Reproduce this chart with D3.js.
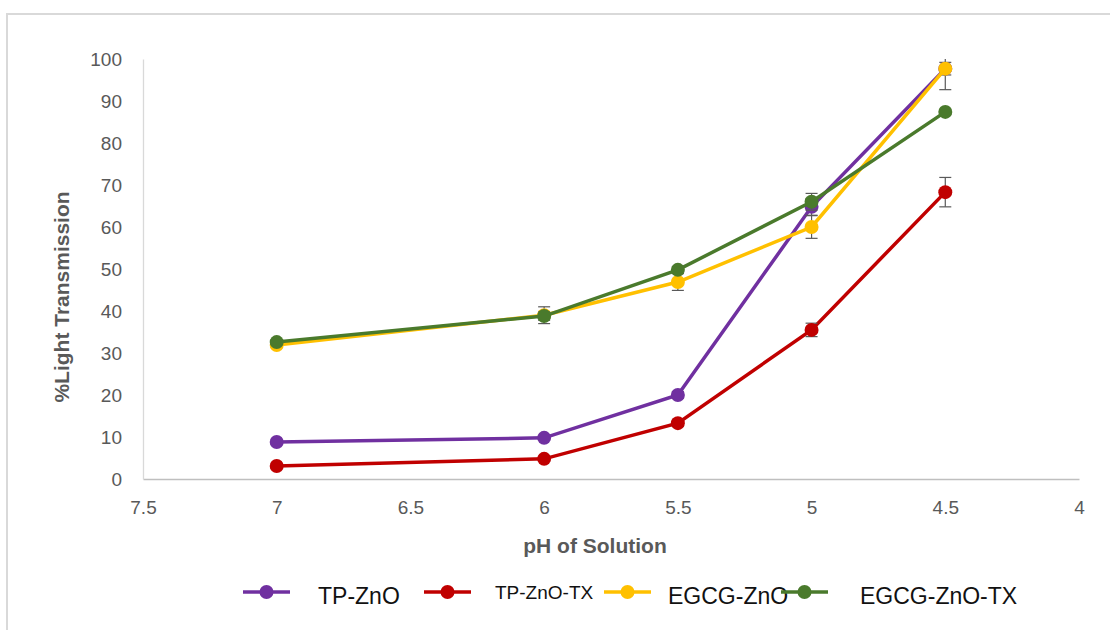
<!DOCTYPE html>
<html>
<head>
<meta charset="utf-8">
<script src="https://cdn.jsdelivr.net/npm/d3@7"></script>
<style>
  html, body { margin: 0; padding: 0; background: #fff; }
  svg { display: block; }
</style>
</head>
<body>
<svg id="chart" width="1110" height="630"></svg>
<script>
// pH values (x) and %light transmission for each formulation
const phValues = [7, 6, 5.5, 5, 4.5];
const seriesNames = ["TP-ZnO", "TP-ZnO-TX", "EGCG-ZnO", "EGCG-ZnO-TX"];
const tpZnO      = [8.8, 9.8, 20.0, 64.8, 97.7];
const tpZnOTX    = [3.1, 4.8, 13.3, 35.5, 68.3];
const egcgZnO    = [31.9, 39.0, 46.9, 60.0, 97.7];
const egcgZnOTX  = [32.6, 38.8, 49.8, 66.0, 87.4];
// standard deviations (error bars)
const tpZnOErr     = [0.5, 0.5, 0.8, 2.0, 1.5];
const tpZnOTXErr   = [0.5, 0.6, 0.8, 1.6, 3.5];
const egcgZnOErr   = [0.6, 2.0, 2.0, 2.7, 5.0];
const egcgZnOTXErr = [0.6, 1.0, 0.8, 2.0, 0.5];
const xTicks = [7.5, 7, 6.5, 6, 5.5, 5, 4.5, 4];
const yTicks = [0, 10, 20, 30, 40, 50, 60, 70, 80, 90, 100];
const colors = ["#7030A0", "#C00000", "#FFC000", "#4A7A2C"];

const series = [
  { name: seriesNames[0], values: tpZnO, err: tpZnOErr, color: colors[0] },
  { name: seriesNames[1], values: tpZnOTX, err: tpZnOTXErr, color: colors[1] },
  { name: seriesNames[2], values: egcgZnO, err: egcgZnOErr, color: colors[2] },
  { name: seriesNames[3], values: egcgZnOTX, err: egcgZnOTXErr, color: colors[3] }
];

const svg = d3.select("#chart");
const font = '"Liberation Sans", Arial, sans-serif';

// outer chart frame
svg.append("rect")
  .attr("x", 7).attr("y", 14).attr("width", 1120).attr("height", 640)
  .attr("fill", "none").attr("stroke", "#d9d9d9").attr("stroke-width", 2);

const x = d3.scaleLinear().domain([7.5, 4]).range([143, 1079]);
const y = d3.scaleLinear().domain([0, 100]).range([479, 59]);

// x axis
const xAxis = svg.append("g")
  .attr("transform", `translate(0,${y(0)})`)
  .call(d3.axisBottom(x).tickValues(xTicks).tickFormat(d3.format("")).tickSize(0).tickPadding(22));
xAxis.select(".domain").attr("stroke", "#bfbfbf").attr("stroke-width", 1.3);
xAxis.selectAll("text").attr("fill", "#595959").style("font-size", "19px").style("font-family", font);

// y axis
const yAxis = svg.append("g")
  .attr("transform", `translate(${x(7.5)},0)`)
  .call(d3.axisLeft(y).tickValues(yTicks).tickSize(0).tickPadding(21));
yAxis.select(".domain").attr("stroke", "#d9d9d9").attr("stroke-width", 1.3);
yAxis.selectAll("text").attr("fill", "#595959").style("font-size", "19px").style("font-family", font);

// axis titles
svg.append("text")
  .attr("x", 595).attr("y", 553)
  .attr("text-anchor", "middle")
  .attr("fill", "#595959").attr("font-weight", "bold")
  .style("font-size", "21px").style("font-family", font)
  .text("pH of Solution");

svg.append("text")
  .attr("transform", "translate(69,297) rotate(-90)")
  .attr("text-anchor", "middle")
  .attr("fill", "#595959").attr("font-weight", "bold")
  .style("font-size", "21px").style("font-family", font)
  .text("%Light Transmission");

const line = d3.line()
  .x((d, i) => x(phValues[i]))
  .y(d => y(d));

const plot = svg.append("g");

series.forEach(s => {
  const g = plot.append("g");
  g.append("path")
    .datum(s.values)
    .attr("fill", "none")
    .attr("stroke", s.color)
    .attr("stroke-width", 3.5)
    .attr("d", line);
  // error bars (clipped to the axis maximum)
  const eb = g.selectAll(".eb").data(s.values.map((v, i) => ({ v, e: s.err[i], ph: phValues[i] })))
    .enter().append("g");
  eb.append("line")
    .attr("x1", d => x(d.ph)).attr("x2", d => x(d.ph))
    .attr("y1", d => y(Math.min(100, d.v + d.e))).attr("y2", d => y(d.v - d.e))
    .attr("stroke", "#595959").attr("stroke-width", 1.2);
  eb.filter(d => d.v + d.e <= 100).append("line")
    .attr("x1", d => x(d.ph) - 6).attr("x2", d => x(d.ph) + 6)
    .attr("y1", d => y(d.v + d.e)).attr("y2", d => y(d.v + d.e))
    .attr("stroke", "#595959").attr("stroke-width", 1.2);
  eb.append("line")
    .attr("x1", d => x(d.ph) - 6).attr("x2", d => x(d.ph) + 6)
    .attr("y1", d => y(d.v - d.e)).attr("y2", d => y(d.v - d.e))
    .attr("stroke", "#595959").attr("stroke-width", 1.2);
  g.selectAll("circle").data(s.values).enter().append("circle")
    .attr("cx", (d, i) => x(phValues[i]))
    .attr("cy", d => y(d))
    .attr("r", 7)
    .attr("fill", s.color);
});

// legend
const legendItems = [
  { s: series[0], lx: 243, tx: 318, ty: 604, size: 23 },
  { s: series[1], lx: 424, tx: 495, ty: 599, size: 19 },
  { s: series[2], lx: 604, tx: 668, ty: 604, size: 23 },
  { s: series[3], lx: 781, tx: 860, ty: 604, size: 23 }
];
const legend = svg.append("g");
legendItems.forEach(it => {
  legend.append("line")
    .attr("x1", it.lx).attr("x2", it.lx + 47)
    .attr("y1", 592).attr("y2", 592)
    .attr("stroke", it.s.color).attr("stroke-width", 3.5);
  legend.append("circle")
    .attr("cx", it.lx + 23.5).attr("cy", 592).attr("r", 7)
    .attr("fill", it.s.color);
  legend.append("text")
    .attr("x", it.tx).attr("y", it.ty)
    .attr("fill", "#111")
    .style("font-size", it.size + "px").style("font-family", font)
    .text(it.s.name);
});
</script>
</body>
</html>
